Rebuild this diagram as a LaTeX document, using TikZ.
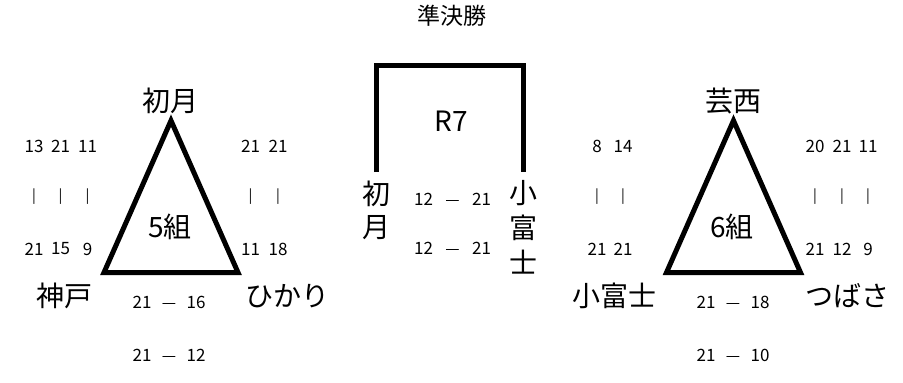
\documentclass[tikz,border=0pt]{standalone}
\usepackage{fontspec}
\setmainfont{Noto Sans CJK JP}
\begin{document}
\begin{tikzpicture}[x=1pt,y=-1pt,
  heavy/.style={line width=5pt, line join=miter},
  team/.style={font=\fontsize{28}{28}\selectfont, inner sep=0pt},
  grp/.style={font=\fontsize{28}{28}\selectfont, inner sep=0pt},
  score/.style={font=\fontsize{17}{17}\selectfont, inner sep=0pt},
  dashsym/.style={font=\fontsize{16}{16}\selectfont, inner sep=0pt, anchor=base, yshift=-6.2pt},
  bar/.style={font=\fontsize{14}{14}\selectfont, inner sep=0pt},
  ttl/.style={font=\fontsize{23}{23}\selectfont, inner sep=0pt}]
\useasboundingbox (0,0) rectangle (903,383);

% ---------- left group (5組) ----------
\coordinate (A1) at (171,120.6);
\coordinate (A2) at (104,272.5);
\coordinate (A3) at (238,272.5);
\draw[heavy] (A1) -- (A2) -- (A3) -- cycle;
\node[team] (hatsuki) at (170,101) {初月};
\node[team] (kobe) at (64,296) {神戸};
\node[team] (hikari) at (287,296) {ひかり};
\node[grp] (g5) at (170,227) {5組};

\node[score] (l11) at (34,146) {13};
\node[score] (l12) at (60.5,146) {21};
\node[score] (l13) at (87.5,146) {11};
\node[bar] (l21) at (34,197) {|};
\node[bar] (l22) at (60.5,197) {|};
\node[bar] (l23) at (87.5,197) {|};
\node[score] (l31) at (34,249) {21};
\node[score] (l32) at (60.5,249) {15};
\node[score] (l33) at (87.5,249) {9};

\node[score] (r11) at (250.5,146) {21};
\node[score] (r12) at (278,146) {21};
\node[bar] (r21) at (250.5,197) {|};
\node[bar] (r22) at (278,197) {|};
\node[score] (r31) at (250.5,249) {11};
\node[score] (r32) at (278,249) {18};

\node[score] (b11) at (142,302) {21};
\node[dashsym] (b12) at (169,302) {—};
\node[score] (b13) at (196,302) {16};
\node[score] (b21) at (142,355) {21};
\node[dashsym] (b22) at (169,355) {—};
\node[score] (b23) at (196,355) {12};

% ---------- semifinal ----------
\node[ttl] (semi) at (452,16) {準決勝};
\coordinate (K1) at (376.5,172);
\coordinate (K2) at (376.5,65.5);
\coordinate (K3) at (523.5,65.5);
\coordinate (K4) at (523.5,172);
\draw[heavy] (K1) -- (K2) -- (K3) -- (K4);
\node[grp] (r7) at (451,121) {R7};
\node[team] (sh1) at (376,193.5) {初};
\node[team] (sh2) at (376,227.5) {月};
\node[team] (sk1) at (523.5,193.5) {小};
\node[team] (sk2) at (523.5,228) {富};
\node[team] (sk3) at (523.5,262.5) {士};
\node[score] (m11) at (423.5,199) {12};
\node[dashsym] (m12) at (452.5,199) {—};
\node[score] (m13) at (481.5,199) {21};
\node[score] (m21) at (423.5,248) {12};
\node[dashsym] (m22) at (452.5,248) {—};
\node[score] (m23) at (481.5,248) {21};

% ---------- right group (6組) ----------
\coordinate (B1) at (733.5,120.6);
\coordinate (B2) at (666.5,272.5);
\coordinate (B3) at (800.5,272.5);
\draw[heavy] (B1) -- (B2) -- (B3) -- cycle;
\node[team] (geisei) at (733,101) {芸西};
\node[team] (kofuji) at (614,296) {小富士};
\node[team] (tsubasa) at (847,296) {つばさ};
\node[grp] (g6) at (732,227) {6組};

\node[score] (p11) at (597,146) {8};
\node[score] (p12) at (623,146) {14};
\node[bar] (p21) at (597,197) {|};
\node[bar] (p22) at (623,197) {|};
\node[score] (p31) at (597,249) {21};
\node[score] (p32) at (623,249) {21};

\node[score] (q11) at (815,146) {20};
\node[score] (q12) at (842,146) {21};
\node[score] (q13) at (868,146) {11};
\node[bar] (q21) at (815,197) {|};
\node[bar] (q22) at (842,197) {|};
\node[bar] (q23) at (868,197) {|};
\node[score] (q31) at (815,249) {21};
\node[score] (q32) at (842,249) {12};
\node[score] (q33) at (868,249) {9};

\node[score] (c11) at (706,302) {21};
\node[dashsym] (c12) at (733,302) {—};
\node[score] (c13) at (760,302) {18};
\node[score] (c21) at (706,355) {21};
\node[dashsym] (c22) at (733,355) {—};
\node[score] (c23) at (760,355) {10};
\end{tikzpicture}
\end{document}
